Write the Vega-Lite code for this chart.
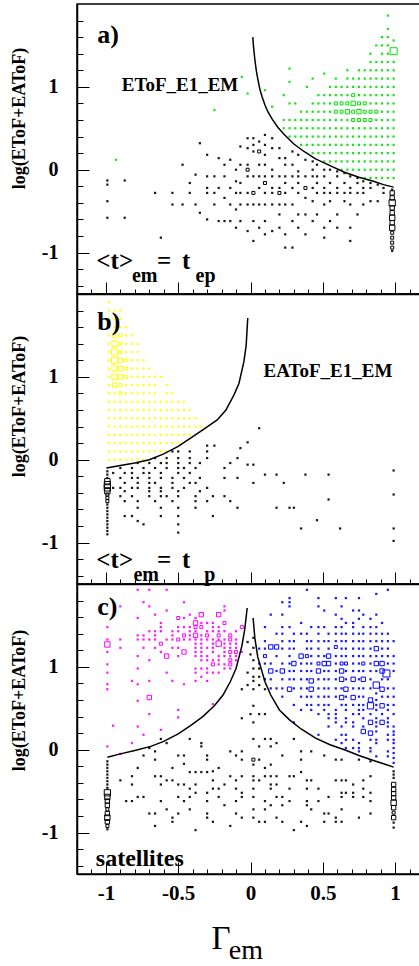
{"$schema":"https://vega.github.io/schema/vega-lite/v6.json",
"padding":{"left":9,"top":3,"right":0,"bottom":0},
"background":"white",
"spacing":0,
"bounds":"flush",
"config":{"view":{"stroke":"black","strokeWidth":1.5},"font":"Liberation Serif",
"axis":{"grid":false,"domainColor":"black","domainWidth":1.5,"tickColor":"black","tickWidth":1,"labelColor":"black","labelFont":"Liberation Serif","labelFontWeight":"bold","labelFlush":false,"labelOverlap":false,"labelBound":false,"titleFont":"Liberation Serif","titleFontWeight":"bold","titleColor":"black"}},
"resolve":{"scale":{"size":"independent"}},
"datasets":{
"crv":[
{"p":"a","s":"r","x":0.016,"y":1.6},{"p":"a","s":"r","x":0.02,"y":1.5},{"p":"a","s":"r","x":0.03,"y":1.33},{"p":"a","s":"r","x":0.04,"y":1.2},{"p":"a","s":"r","x":0.05,"y":1.1},{"p":"a","s":"r","x":0.065,"y":0.97},{"p":"a","s":"r","x":0.08,"y":0.88},{"p":"a","s":"r","x":0.1,"y":0.78},{"p":"a","s":"r","x":0.12,"y":0.7},{"p":"a","s":"r","x":0.15,"y":0.61},{"p":"a","s":"r","x":0.19,"y":0.51},{"p":"a","s":"r","x":0.23,"y":0.43},{"p":"a","s":"r","x":0.3,"y":0.31},{"p":"a","s":"r","x":0.37,"y":0.22},{"p":"a","s":"r","x":0.45,"y":0.13},{"p":"a","s":"r","x":0.55,"y":0.05},{"p":"a","s":"r","x":0.65,"y":-0.03},{"p":"a","s":"r","x":0.75,"y":-0.09},{"p":"a","s":"r","x":0.85,"y":-0.14},{"p":"a","s":"r","x":0.92,"y":-0.18},{"p":"a","s":"r","x":0.99,"y":-0.21},
{"p":"b","s":"l","x":-0.997,"y":-0.1},{"p":"b","s":"l","x":-0.9,"y":-0.07},{"p":"b","s":"l","x":-0.8,"y":-0.04},{"p":"b","s":"l","x":-0.7,"y":0.0},{"p":"b","s":"l","x":-0.6,"y":0.07},{"p":"b","s":"l","x":-0.5,"y":0.16},{"p":"b","s":"l","x":-0.415,"y":0.26},{"p":"b","s":"l","x":-0.33,"y":0.36},{"p":"b","s":"l","x":-0.23,"y":0.48},{"p":"b","s":"l","x":-0.17,"y":0.6},{"p":"b","s":"l","x":-0.115,"y":0.78},{"p":"b","s":"l","x":-0.08,"y":0.92},{"p":"b","s":"l","x":-0.046,"y":1.18},{"p":"b","s":"l","x":-0.03,"y":1.38},{"p":"b","s":"l","x":-0.019,"y":1.71},
{"p":"c","s":"l","x":-0.99,"y":-0.09},{"p":"c","s":"l","x":-0.9,"y":-0.05},{"p":"c","s":"l","x":-0.8,"y":-0.01},{"p":"c","s":"l","x":-0.69,"y":0.04},{"p":"c","s":"l","x":-0.6,"y":0.1},{"p":"c","s":"l","x":-0.5,"y":0.19},{"p":"c","s":"l","x":-0.415,"y":0.29},{"p":"c","s":"l","x":-0.33,"y":0.4},{"p":"c","s":"l","x":-0.25,"y":0.53},{"p":"c","s":"l","x":-0.19,"y":0.66},{"p":"c","s":"l","x":-0.14,"y":0.82},{"p":"c","s":"l","x":-0.1,"y":0.98},{"p":"c","s":"l","x":-0.06,"y":1.25},{"p":"c","s":"l","x":-0.04,"y":1.45},{"p":"c","s":"l","x":-0.023,"y":1.71},
{"p":"c","s":"r","x":0.018,"y":1.59},{"p":"c","s":"r","x":0.03,"y":1.35},{"p":"c","s":"r","x":0.05,"y":1.12},{"p":"c","s":"r","x":0.07,"y":1.0},{"p":"c","s":"r","x":0.1,"y":0.82},{"p":"c","s":"r","x":0.14,"y":0.66},{"p":"c","s":"r","x":0.2,"y":0.48},{"p":"c","s":"r","x":0.27,"y":0.36},{"p":"c","s":"r","x":0.35,"y":0.25},{"p":"c","s":"r","x":0.45,"y":0.14},{"p":"c","s":"r","x":0.55,"y":0.06},{"p":"c","s":"r","x":0.65,"y":0.0},{"p":"c","s":"r","x":0.75,"y":-0.07},{"p":"c","s":"r","x":0.85,"y":-0.13},{"p":"c","s":"r","x":0.92,"y":-0.17},{"p":"c","s":"r","x":0.99,"y":-0.21}
],
"txt":[
{"p":"a","r":"tag","t":"a)","x":-1.06,"y":1.53},
{"p":"a","r":"name","t":"EToF_E1_EM","x":-0.89,"y":0.95},
{"p":"a","r":"main","t":"<t>","x":-1.066,"y":-1.2},
{"p":"a","r":"sub","t":"em","x":-0.82,"y":-1.35},
{"p":"a","r":"main","t":"=","x":-0.646,"y":-1.2},
{"p":"a","r":"main","t":"t","x":-0.473,"y":-1.2},
{"p":"a","r":"sub","t":"ep","x":-0.38,"y":-1.35},
{"p":"b","r":"tag","t":"b)","x":-1.06,"y":1.57},
{"p":"b","r":"name","t":"EAToF_E1_EM","x":0.09,"y":1.0},
{"p":"b","r":"main","t":"<t>","x":-1.066,"y":-1.31},
{"p":"b","r":"sub","t":"em","x":-0.81,"y":-1.46},
{"p":"b","r":"main","t":"=","x":-0.646,"y":-1.31},
{"p":"b","r":"main","t":"t","x":-0.473,"y":-1.31},
{"p":"b","r":"sub","t":"p","x":-0.32,"y":-1.46},
{"p":"c","r":"tag","t":"c)","x":-1.06,"y":1.63},
{"p":"c","r":"sat","t":"satellites","x":-1.07,"y":-1.4},
{"p":"c","r":"big","t":"Γ","x":-0.27,"y":-2.41},
{"p":"c","r":"bigsub","t":"em","x":-0.15,"y":-2.53}
],
"pts":[
{"k":"ak","x":-0.99,"y":-0.13},{"k":"ak","x":-0.99,"y":-0.18},{"k":"ak","x":-0.99,"y":-0.38},{"k":"ak","x":-0.99,"y":-0.58},{"k":"ak","x":-0.87,"y":-0.13},{"k":"ak","x":-0.87,"y":-0.58},{"k":"ak","x":-0.66,"y":-0.28},{"k":"ak","x":-0.62,"y":-0.82},{"k":"ak","x":-0.54,"y":-0.28},{"k":"ak","x":-0.54,"y":-0.42},{"k":"ak","x":-0.47,"y":0.06},{"k":"ak","x":-0.47,"y":-0.42},{"k":"ak","x":-0.42,"y":-0.16},{"k":"ak","x":-0.42,"y":-0.28},{"k":"ak","x":-0.38,"y":-0.06},{"k":"ak","x":-0.38,"y":-0.42},{"k":"ak","x":-0.35,"y":0.32},{"k":"ak","x":-0.35,"y":-0.52},
{"k":"ak","x":-0.3,"y":0.18},{"k":"ak","x":-0.3,"y":-0.08},{"k":"ak","x":-0.3,"y":-0.22},{"k":"ak","x":-0.3,"y":-0.28},{"k":"ak","x":-0.3,"y":-0.6},{"k":"ak","x":-0.25,"y":-0.08},{"k":"ak","x":-0.25,"y":-0.28},{"k":"ak","x":-0.25,"y":-0.42},{"k":"ak","x":-0.22,"y":0.14},{"k":"ak","x":-0.22,"y":-0.22},{"k":"ak","x":-0.22,"y":-0.62},{"k":"ak","x":-0.18,"y":0.06},{"k":"ak","x":-0.18,"y":-0.08},{"k":"ak","x":-0.18,"y":-0.34},{"k":"ak","x":-0.18,"y":-0.62},{"k":"ak","x":-0.14,"y":0.12},{"k":"ak","x":-0.14,"y":-0.22},{"k":"ak","x":-0.14,"y":-0.42},{"k":"ak","x":-0.14,"y":-0.62},
{"k":"ak","x":-0.1,"y":0},{"k":"ak","x":-0.1,"y":-0.14},{"k":"ak","x":-0.1,"y":-0.28},{"k":"ak","x":-0.1,"y":-0.48},{"k":"ak","x":-0.1,"y":-0.7},{"k":"ak","x":-0.07,"y":0.28},{"k":"ak","x":-0.07,"y":0.06},{"k":"ak","x":-0.07,"y":-0.16},{"k":"ak","x":-0.07,"y":-0.28},{"k":"ak","x":-0.07,"y":-0.42},{"k":"ak","x":-0.07,"y":-0.62},
{"k":"ak","x":-0.02,"y":0.38},{"k":"ak","x":-0.02,"y":0.26},{"k":"ak","x":-0.02,"y":0.06},{"k":"ak","x":-0.02,"y":0,"n":2},{"k":"ak","x":-0.02,"y":-0.08},{"k":"ak","x":-0.02,"y":-0.28},{"k":"ak","x":-0.02,"y":-0.42},{"k":"ak","x":-0.02,"y":-0.74},
{"k":"ak","x":0.02,"y":0.38},{"k":"ak","x":0.02,"y":0.3},{"k":"ak","x":0.02,"y":0.22},{"k":"ak","x":0.02,"y":-0.08},{"k":"ak","x":0.02,"y":-0.28,"n":2},{"k":"ak","x":0.02,"y":-0.42},{"k":"ak","x":0.02,"y":-0.62},{"k":"ak","x":0.02,"y":-0.86},
{"k":"ak","x":0.06,"y":0.34},{"k":"ak","x":0.06,"y":0.22,"n":2},{"k":"ak","x":0.06,"y":0.06},{"k":"ak","x":0.06,"y":-0.08},{"k":"ak","x":0.06,"y":-0.22},{"k":"ak","x":0.06,"y":-0.42},{"k":"ak","x":0.06,"y":-0.7},
{"k":"ak","x":0.1,"y":0.42},{"k":"ak","x":0.1,"y":0.3},{"k":"ak","x":0.1,"y":0.18},{"k":"ak","x":0.1,"y":0.06},{"k":"ak","x":0.1,"y":-0.08},{"k":"ak","x":0.1,"y":-0.16,"n":2},{"k":"ak","x":0.1,"y":-0.28},{"k":"ak","x":0.1,"y":-0.42},{"k":"ak","x":0.1,"y":-0.62},{"k":"ak","x":0.1,"y":-0.78},
{"k":"ak","x":0.15,"y":0.38},{"k":"ak","x":0.15,"y":0.26},{"k":"ak","x":0.15,"y":0},{"k":"ak","x":0.15,"y":-0.08},{"k":"ak","x":0.15,"y":-0.22},{"k":"ak","x":0.15,"y":-0.28},{"k":"ak","x":0.15,"y":-0.42},{"k":"ak","x":0.15,"y":-0.74},
{"k":"ak","x":0.2,"y":0.26},{"k":"ak","x":0.2,"y":0.14},{"k":"ak","x":0.2,"y":-0.08},{"k":"ak","x":0.2,"y":-0.22},{"k":"ak","x":0.2,"y":-0.28,"n":2},{"k":"ak","x":0.2,"y":-0.42},{"k":"ak","x":0.2,"y":-0.54},{"k":"ak","x":0.2,"y":-0.7},
{"k":"ak","x":0.24,"y":0.14},{"k":"ak","x":0.24,"y":0.06},{"k":"ak","x":0.24,"y":-0.08},{"k":"ak","x":0.24,"y":-0.16},{"k":"ak","x":0.24,"y":-0.28},{"k":"ak","x":0.24,"y":-0.42},{"k":"ak","x":0.24,"y":-0.78},{"k":"ak","x":0.24,"y":-0.94},
{"k":"ak","x":0.29,"y":0.22},{"k":"ak","x":0.29,"y":0.06},{"k":"ak","x":0.29,"y":-0.08},{"k":"ak","x":0.29,"y":-0.22},{"k":"ak","x":0.29,"y":-0.42},{"k":"ak","x":0.29,"y":-0.62},{"k":"ak","x":0.29,"y":-0.94},
{"k":"ak","x":0.33,"y":0.18},{"k":"ak","x":0.33,"y":-0.02},{"k":"ak","x":0.33,"y":-0.08},{"k":"ak","x":0.33,"y":-0.16},{"k":"ak","x":0.33,"y":-0.28},{"k":"ak","x":0.33,"y":-0.54},{"k":"ak","x":0.33,"y":-0.7},
{"k":"ak","x":0.38,"y":0.12},{"k":"ak","x":0.38,"y":-0.08},{"k":"ak","x":0.38,"y":-0.22,"n":2},{"k":"ak","x":0.38,"y":-0.34},{"k":"ak","x":0.38,"y":-0.54},{"k":"ak","x":0.38,"y":-0.78},
{"k":"ak","x":0.43,"y":0.1},{"k":"ak","x":0.43,"y":0},{"k":"ak","x":0.43,"y":-0.08},{"k":"ak","x":0.43,"y":-0.22},{"k":"ak","x":0.43,"y":-0.38},{"k":"ak","x":0.43,"y":-0.62},
{"k":"ak","x":0.46,"y":0.06},{"k":"ak","x":0.46,"y":-0.08},{"k":"ak","x":0.46,"y":-0.16},{"k":"ak","x":0.46,"y":-0.28},{"k":"ak","x":0.46,"y":-0.54},
{"k":"ak","x":0.51,"y":0},{"k":"ak","x":0.51,"y":-0.08},{"k":"ak","x":0.51,"y":-0.22},{"k":"ak","x":0.51,"y":-0.28},{"k":"ak","x":0.51,"y":-0.42},{"k":"ak","x":0.51,"y":-0.7},{"k":"ak","x":0.51,"y":-0.82},
{"k":"ak","x":0.55,"y":0},{"k":"ak","x":0.55,"y":-0.16},{"k":"ak","x":0.55,"y":-0.28},{"k":"ak","x":0.55,"y":-0.38},{"k":"ak","x":0.55,"y":-0.62},
{"k":"ak","x":0.6,"y":-0.02},{"k":"ak","x":0.6,"y":-0.08},{"k":"ak","x":0.6,"y":-0.22},{"k":"ak","x":0.6,"y":-0.28},{"k":"ak","x":0.6,"y":-0.54},{"k":"ak","x":0.6,"y":-0.7},
{"k":"ak","x":0.65,"y":-0.04},{"k":"ak","x":0.65,"y":-0.16},{"k":"ak","x":0.65,"y":-0.28},{"k":"ak","x":0.65,"y":-0.38},
{"k":"ak","x":0.69,"y":-0.08},{"k":"ak","x":0.69,"y":-0.22},{"k":"ak","x":0.69,"y":-0.28},{"k":"ak","x":0.69,"y":-0.42},{"k":"ak","x":0.69,"y":-0.7},{"k":"ak","x":0.69,"y":-0.86},
{"k":"ak","x":0.74,"y":-0.1},{"k":"ak","x":0.74,"y":-0.16},{"k":"ak","x":0.74,"y":-0.28},{"k":"ak","x":0.74,"y":-0.54},
{"k":"ak","x":0.78,"y":-0.14},{"k":"ak","x":0.78,"y":-0.22},{"k":"ak","x":0.78,"y":-0.28},{"k":"ak","x":0.78,"y":-0.42},
{"k":"ak","x":0.83,"y":-0.16},{"k":"ak","x":0.83,"y":-0.22},{"k":"ak","x":0.83,"y":-0.38},{"k":"ak","x":0.88,"y":-0.18},{"k":"ak","x":0.88,"y":-0.38},{"k":"ak","x":0.92,"y":-0.22},{"k":"ak","x":0.92,"y":-0.28},
{"k":"ak","x":0.98,"y":-0.24},{"k":"ak","x":0.98,"y":-0.28,"n":3},{"k":"ak","x":0.98,"y":-0.34,"n":3},{"k":"ak","x":0.98,"y":-0.4,"n":5},{"k":"ak","x":0.98,"y":-0.46,"n":3},{"k":"ak","x":0.98,"y":-0.52,"n":3},{"k":"ak","x":0.98,"y":-0.58,"n":4},{"k":"ak","x":0.98,"y":-0.64,"n":3},{"k":"ak","x":0.98,"y":-0.7,"n":4},{"k":"ak","x":0.98,"y":-0.76,"n":2},{"k":"ak","x":0.98,"y":-0.82,"n":2},{"k":"ak","x":0.98,"y":-0.88,"n":2},{"k":"ak","x":0.98,"y":-0.94,"n":2},{"k":"ak","x":0.98,"y":-0.98},
{"k":"ag","x":-0.93,"y":0.12},{"k":"ag","x":-0.25,"y":0.72},{"k":"ag","x":-0.06,"y":1.12},{"k":"ag","x":-0.02,"y":0.92},{"k":"ag","x":0.1,"y":0.96},{"k":"ag","x":0.15,"y":0.76},
{"k":"ag","x":0.23,"y":0.5},{"k":"ag","x":0.23,"y":0.6},{"k":"ag","x":0.23,"y":0.9},
{"k":"ag","x":0.27,"y":0.4},{"k":"ag","x":0.27,"y":0.5},{"k":"ag","x":0.27,"y":0.6},{"k":"ag","x":0.27,"y":0.8},{"k":"ag","x":0.27,"y":1.06},{"k":"ag","x":0.27,"y":1.22},
{"k":"ag","x":0.31,"y":0.4},{"k":"ag","x":0.31,"y":0.5},{"k":"ag","x":0.31,"y":0.6},{"k":"ag","x":0.31,"y":0.8},
{"k":"ag","x":0.35,"y":0.3},{"k":"ag","x":0.35,"y":0.4},{"k":"ag","x":0.35,"y":0.5},{"k":"ag","x":0.35,"y":0.6},{"k":"ag","x":0.35,"y":0.7},
{"k":"ag","x":0.39,"y":0.3},{"k":"ag","x":0.39,"y":0.4},{"k":"ag","x":0.39,"y":0.5},{"k":"ag","x":0.39,"y":0.6},{"k":"ag","x":0.39,"y":0.7},{"k":"ag","x":0.39,"y":1.0},
{"k":"ag","x":0.43,"y":0.2},{"k":"ag","x":0.43,"y":0.3},{"k":"ag","x":0.43,"y":0.4},{"k":"ag","x":0.43,"y":0.5},{"k":"ag","x":0.43,"y":0.6},{"k":"ag","x":0.43,"y":0.7},{"k":"ag","x":0.43,"y":0.8},{"k":"ag","x":0.43,"y":1.1},
{"k":"ag","x":0.47,"y":0.2},{"k":"ag","x":0.47,"y":0.3},{"k":"ag","x":0.47,"y":0.4},{"k":"ag","x":0.47,"y":0.5},{"k":"ag","x":0.47,"y":0.6},{"k":"ag","x":0.47,"y":0.7},{"k":"ag","x":0.47,"y":0.8},{"k":"ag","x":0.47,"y":0.9},
{"k":"ag","x":0.51,"y":0.1},{"k":"ag","x":0.51,"y":0.2},{"k":"ag","x":0.51,"y":0.3},{"k":"ag","x":0.51,"y":0.4},{"k":"ag","x":0.51,"y":0.5},{"k":"ag","x":0.51,"y":0.6},{"k":"ag","x":0.51,"y":0.7},{"k":"ag","x":0.51,"y":0.8},{"k":"ag","x":0.51,"y":0.9},{"k":"ag","x":0.51,"y":1.16},
{"k":"ag","x":0.55,"y":0.1},{"k":"ag","x":0.55,"y":0.2},{"k":"ag","x":0.55,"y":0.3},{"k":"ag","x":0.55,"y":0.4},{"k":"ag","x":0.55,"y":0.5},{"k":"ag","x":0.55,"y":0.6},{"k":"ag","x":0.55,"y":0.7},{"k":"ag","x":0.55,"y":0.8},{"k":"ag","x":0.55,"y":0.9},{"k":"ag","x":0.55,"y":1.0},
{"k":"ag","x":0.59,"y":0.1},{"k":"ag","x":0.59,"y":0.2},{"k":"ag","x":0.59,"y":0.3},{"k":"ag","x":0.59,"y":0.4},{"k":"ag","x":0.59,"y":0.5},{"k":"ag","x":0.59,"y":0.6},{"k":"ag","x":0.59,"y":0.7,"n":2},{"k":"ag","x":0.59,"y":0.8,"n":2},{"k":"ag","x":0.59,"y":0.9},{"k":"ag","x":0.59,"y":1.0},{"k":"ag","x":0.59,"y":1.1},
{"k":"ag","x":0.63,"y":0},{"k":"ag","x":0.63,"y":0.1},{"k":"ag","x":0.63,"y":0.2},{"k":"ag","x":0.63,"y":0.3},{"k":"ag","x":0.63,"y":0.4},{"k":"ag","x":0.63,"y":0.5},{"k":"ag","x":0.63,"y":0.6},{"k":"ag","x":0.63,"y":0.7,"n":2},{"k":"ag","x":0.63,"y":0.8,"n":2},{"k":"ag","x":0.63,"y":0.9},{"k":"ag","x":0.63,"y":1.0},
{"k":"ag","x":0.67,"y":0},{"k":"ag","x":0.67,"y":0.1},{"k":"ag","x":0.67,"y":0.2},{"k":"ag","x":0.67,"y":0.3},{"k":"ag","x":0.67,"y":0.4},{"k":"ag","x":0.67,"y":0.5},{"k":"ag","x":0.67,"y":0.6},{"k":"ag","x":0.67,"y":0.7,"n":3},{"k":"ag","x":0.67,"y":0.8,"n":2},{"k":"ag","x":0.67,"y":0.9},{"k":"ag","x":0.67,"y":1.0},{"k":"ag","x":0.67,"y":1.1},{"k":"ag","x":0.67,"y":1.2},
{"k":"ag","x":0.71,"y":0},{"k":"ag","x":0.71,"y":0.1},{"k":"ag","x":0.71,"y":0.2},{"k":"ag","x":0.71,"y":0.3},{"k":"ag","x":0.71,"y":0.4},{"k":"ag","x":0.71,"y":0.5},{"k":"ag","x":0.71,"y":0.6,"n":2},{"k":"ag","x":0.71,"y":0.7,"n":2},{"k":"ag","x":0.71,"y":0.8,"n":3},{"k":"ag","x":0.71,"y":0.9,"n":2},{"k":"ag","x":0.71,"y":1.0},{"k":"ag","x":0.71,"y":1.1},
{"k":"ag","x":0.75,"y":0},{"k":"ag","x":0.75,"y":0.1},{"k":"ag","x":0.75,"y":0.2},{"k":"ag","x":0.75,"y":0.3},{"k":"ag","x":0.75,"y":0.4},{"k":"ag","x":0.75,"y":0.5},{"k":"ag","x":0.75,"y":0.6,"n":2},{"k":"ag","x":0.75,"y":0.7,"n":3},{"k":"ag","x":0.75,"y":0.8,"n":2},{"k":"ag","x":0.75,"y":0.9},{"k":"ag","x":0.75,"y":1.0},{"k":"ag","x":0.75,"y":1.1},{"k":"ag","x":0.75,"y":1.2},
{"k":"ag","x":0.79,"y":-0.1},{"k":"ag","x":0.79,"y":0},{"k":"ag","x":0.79,"y":0.1},{"k":"ag","x":0.79,"y":0.2},{"k":"ag","x":0.79,"y":0.3},{"k":"ag","x":0.79,"y":0.4},{"k":"ag","x":0.79,"y":0.5},{"k":"ag","x":0.79,"y":0.6,"n":2},{"k":"ag","x":0.79,"y":0.7,"n":2},{"k":"ag","x":0.79,"y":0.8,"n":2},{"k":"ag","x":0.79,"y":0.9},{"k":"ag","x":0.79,"y":1.0},{"k":"ag","x":0.79,"y":1.1},{"k":"ag","x":0.79,"y":1.2},
{"k":"ag","x":0.83,"y":-0.1},{"k":"ag","x":0.83,"y":0},{"k":"ag","x":0.83,"y":0.1},{"k":"ag","x":0.83,"y":0.2},{"k":"ag","x":0.83,"y":0.3},{"k":"ag","x":0.83,"y":0.4},{"k":"ag","x":0.83,"y":0.5},{"k":"ag","x":0.83,"y":0.6,"n":2},{"k":"ag","x":0.83,"y":0.7,"n":2},{"k":"ag","x":0.83,"y":0.8},{"k":"ag","x":0.83,"y":0.9},{"k":"ag","x":0.83,"y":1.0},{"k":"ag","x":0.83,"y":1.1},{"k":"ag","x":0.83,"y":1.2},{"k":"ag","x":0.83,"y":1.3},{"k":"ag","x":0.83,"y":1.4},
{"k":"ag","x":0.87,"y":-0.1},{"k":"ag","x":0.87,"y":0},{"k":"ag","x":0.87,"y":0.1},{"k":"ag","x":0.87,"y":0.2},{"k":"ag","x":0.87,"y":0.3},{"k":"ag","x":0.87,"y":0.4},{"k":"ag","x":0.87,"y":0.5},{"k":"ag","x":0.87,"y":0.6},{"k":"ag","x":0.87,"y":0.7,"n":2},{"k":"ag","x":0.87,"y":0.8},{"k":"ag","x":0.87,"y":0.9},{"k":"ag","x":0.87,"y":1.0},{"k":"ag","x":0.87,"y":1.1},{"k":"ag","x":0.87,"y":1.2},{"k":"ag","x":0.87,"y":1.3},{"k":"ag","x":0.87,"y":1.5},
{"k":"ag","x":0.91,"y":-0.1},{"k":"ag","x":0.91,"y":0},{"k":"ag","x":0.91,"y":0.1},{"k":"ag","x":0.91,"y":0.2},{"k":"ag","x":0.91,"y":0.3},{"k":"ag","x":0.91,"y":0.4},{"k":"ag","x":0.91,"y":0.5},{"k":"ag","x":0.91,"y":0.6},{"k":"ag","x":0.91,"y":0.7},{"k":"ag","x":0.91,"y":0.8},{"k":"ag","x":0.91,"y":0.9},{"k":"ag","x":0.91,"y":1.0},{"k":"ag","x":0.91,"y":1.1},{"k":"ag","x":0.91,"y":1.2},{"k":"ag","x":0.91,"y":1.3},{"k":"ag","x":0.91,"y":1.4},{"k":"ag","x":0.91,"y":1.5},{"k":"ag","x":0.91,"y":1.6},
{"k":"ag","x":0.95,"y":-0.1},{"k":"ag","x":0.95,"y":0},{"k":"ag","x":0.95,"y":0.1},{"k":"ag","x":0.95,"y":0.2},{"k":"ag","x":0.95,"y":0.3},{"k":"ag","x":0.95,"y":0.4},{"k":"ag","x":0.95,"y":0.5},{"k":"ag","x":0.95,"y":0.6},{"k":"ag","x":0.95,"y":0.7},{"k":"ag","x":0.95,"y":0.8},{"k":"ag","x":0.95,"y":0.9},{"k":"ag","x":0.95,"y":1.0},{"k":"ag","x":0.95,"y":1.1},{"k":"ag","x":0.95,"y":1.2},{"k":"ag","x":0.95,"y":1.3},{"k":"ag","x":0.95,"y":1.4},{"k":"ag","x":0.95,"y":1.5},{"k":"ag","x":0.95,"y":1.6},{"k":"ag","x":0.95,"y":1.7},{"k":"ag","x":0.95,"y":1.86},
{"k":"ag","x":0.99,"y":-0.1},{"k":"ag","x":0.99,"y":0},{"k":"ag","x":0.99,"y":0.1},{"k":"ag","x":0.99,"y":0.2},{"k":"ag","x":0.99,"y":0.3},{"k":"ag","x":0.99,"y":0.4},{"k":"ag","x":0.99,"y":0.5},{"k":"ag","x":0.99,"y":0.6},{"k":"ag","x":0.99,"y":0.7},{"k":"ag","x":0.99,"y":0.8},{"k":"ag","x":0.99,"y":0.9},{"k":"ag","x":0.99,"y":1.0},{"k":"ag","x":0.99,"y":1.1},{"k":"ag","x":0.99,"y":1.2},{"k":"ag","x":0.99,"y":1.3},{"k":"ag","x":0.99,"y":1.43,"n":6},{"k":"ag","x":0.99,"y":1.56},
{"k":"by","x":-0.98,"y":0},{"k":"by","x":-0.98,"y":0.1},{"k":"by","x":-0.98,"y":0.2},{"k":"by","x":-0.98,"y":0.3},{"k":"by","x":-0.98,"y":0.4},{"k":"by","x":-0.98,"y":0.5},{"k":"by","x":-0.98,"y":0.6},{"k":"by","x":-0.98,"y":0.7},{"k":"by","x":-0.98,"y":0.8},{"k":"by","x":-0.98,"y":0.9},{"k":"by","x":-0.98,"y":1.0},{"k":"by","x":-0.98,"y":1.1},{"k":"by","x":-0.98,"y":1.2},{"k":"by","x":-0.98,"y":1.3},{"k":"by","x":-0.98,"y":1.4},{"k":"by","x":-0.98,"y":1.5},{"k":"by","x":-0.98,"y":1.6},{"k":"by","x":-0.98,"y":1.7},{"k":"by","x":-0.98,"y":1.8},{"k":"by","x":-0.98,"y":1.9},
{"k":"by","x":-0.94,"y":0},{"k":"by","x":-0.94,"y":0.1},{"k":"by","x":-0.94,"y":0.2},{"k":"by","x":-0.94,"y":0.3},{"k":"by","x":-0.94,"y":0.4},{"k":"by","x":-0.94,"y":0.5},{"k":"by","x":-0.94,"y":0.6},{"k":"by","x":-0.94,"y":0.7},{"k":"by","x":-0.94,"y":0.8},{"k":"by","x":-0.94,"y":0.9,"n":3},{"k":"by","x":-0.94,"y":1.0,"n":4},{"k":"by","x":-0.94,"y":1.1,"n":4},{"k":"by","x":-0.94,"y":1.2,"n":5},{"k":"by","x":-0.94,"y":1.3,"n":5},{"k":"by","x":-0.94,"y":1.4,"n":4},{"k":"by","x":-0.94,"y":1.5,"n":3},{"k":"by","x":-0.94,"y":1.6},{"k":"by","x":-0.94,"y":1.7},{"k":"by","x":-0.94,"y":1.8},
{"k":"by","x":-0.9,"y":0},{"k":"by","x":-0.9,"y":0.1},{"k":"by","x":-0.9,"y":0.2},{"k":"by","x":-0.9,"y":0.3},{"k":"by","x":-0.9,"y":0.4},{"k":"by","x":-0.9,"y":0.5},{"k":"by","x":-0.9,"y":0.6},{"k":"by","x":-0.9,"y":0.7},{"k":"by","x":-0.9,"y":0.8,"n":2},{"k":"by","x":-0.9,"y":0.9,"n":2},{"k":"by","x":-0.9,"y":1.0,"n":3},{"k":"by","x":-0.9,"y":1.1,"n":3},{"k":"by","x":-0.9,"y":1.2,"n":3},{"k":"by","x":-0.9,"y":1.3,"n":2},{"k":"by","x":-0.9,"y":1.4,"n":2},{"k":"by","x":-0.9,"y":1.5,"n":2},{"k":"by","x":-0.9,"y":1.6},{"k":"by","x":-0.9,"y":1.7},{"k":"by","x":-0.9,"y":1.8},
{"k":"by","x":-0.86,"y":0},{"k":"by","x":-0.86,"y":0.1},{"k":"by","x":-0.86,"y":0.2},{"k":"by","x":-0.86,"y":0.3},{"k":"by","x":-0.86,"y":0.4},{"k":"by","x":-0.86,"y":0.5},{"k":"by","x":-0.86,"y":0.6},{"k":"by","x":-0.86,"y":0.7},{"k":"by","x":-0.86,"y":0.8},{"k":"by","x":-0.86,"y":0.9},{"k":"by","x":-0.86,"y":1.0,"n":2},{"k":"by","x":-0.86,"y":1.1,"n":2},{"k":"by","x":-0.86,"y":1.2,"n":2},{"k":"by","x":-0.86,"y":1.3},{"k":"by","x":-0.86,"y":1.4},{"k":"by","x":-0.86,"y":1.5},{"k":"by","x":-0.86,"y":1.6},
{"k":"by","x":-0.82,"y":0},{"k":"by","x":-0.82,"y":0.1},{"k":"by","x":-0.82,"y":0.2},{"k":"by","x":-0.82,"y":0.3},{"k":"by","x":-0.82,"y":0.4},{"k":"by","x":-0.82,"y":0.5},{"k":"by","x":-0.82,"y":0.6},{"k":"by","x":-0.82,"y":0.7},{"k":"by","x":-0.82,"y":0.8},{"k":"by","x":-0.82,"y":0.9},{"k":"by","x":-0.82,"y":1.0},{"k":"by","x":-0.82,"y":1.1},{"k":"by","x":-0.82,"y":1.2},{"k":"by","x":-0.82,"y":1.3},{"k":"by","x":-0.82,"y":1.4},{"k":"by","x":-0.82,"y":1.5},
{"k":"by","x":-0.78,"y":0},{"k":"by","x":-0.78,"y":0.1},{"k":"by","x":-0.78,"y":0.2},{"k":"by","x":-0.78,"y":0.3},{"k":"by","x":-0.78,"y":0.4},{"k":"by","x":-0.78,"y":0.5},{"k":"by","x":-0.78,"y":0.6},{"k":"by","x":-0.78,"y":0.7},{"k":"by","x":-0.78,"y":0.8},{"k":"by","x":-0.78,"y":0.9},{"k":"by","x":-0.78,"y":1.0},{"k":"by","x":-0.78,"y":1.1},{"k":"by","x":-0.78,"y":1.2},{"k":"by","x":-0.78,"y":1.3},{"k":"by","x":-0.78,"y":1.4},
{"k":"by","x":-0.74,"y":0},{"k":"by","x":-0.74,"y":0.1},{"k":"by","x":-0.74,"y":0.2},{"k":"by","x":-0.74,"y":0.3},{"k":"by","x":-0.74,"y":0.4},{"k":"by","x":-0.74,"y":0.5},{"k":"by","x":-0.74,"y":0.6},{"k":"by","x":-0.74,"y":0.7},{"k":"by","x":-0.74,"y":0.8},{"k":"by","x":-0.74,"y":0.9},{"k":"by","x":-0.74,"y":1.0},{"k":"by","x":-0.74,"y":1.1},{"k":"by","x":-0.74,"y":1.2},
{"k":"by","x":-0.7,"y":0.1},{"k":"by","x":-0.7,"y":0.2},{"k":"by","x":-0.7,"y":0.3},{"k":"by","x":-0.7,"y":0.4},{"k":"by","x":-0.7,"y":0.5},{"k":"by","x":-0.7,"y":0.6},{"k":"by","x":-0.7,"y":0.7},{"k":"by","x":-0.7,"y":0.8},{"k":"by","x":-0.7,"y":0.9},{"k":"by","x":-0.7,"y":1.0},{"k":"by","x":-0.7,"y":1.1},
{"k":"by","x":-0.66,"y":0.1},{"k":"by","x":-0.66,"y":0.2},{"k":"by","x":-0.66,"y":0.3},{"k":"by","x":-0.66,"y":0.4},{"k":"by","x":-0.66,"y":0.5},{"k":"by","x":-0.66,"y":0.6},{"k":"by","x":-0.66,"y":0.7},{"k":"by","x":-0.66,"y":0.8},{"k":"by","x":-0.66,"y":0.9},{"k":"by","x":-0.66,"y":1.0},
{"k":"by","x":-0.62,"y":0.1},{"k":"by","x":-0.62,"y":0.2},{"k":"by","x":-0.62,"y":0.3},{"k":"by","x":-0.62,"y":0.4},{"k":"by","x":-0.62,"y":0.5},{"k":"by","x":-0.62,"y":0.6},{"k":"by","x":-0.62,"y":0.7},{"k":"by","x":-0.62,"y":1.0},
{"k":"by","x":-0.58,"y":0.1},{"k":"by","x":-0.58,"y":0.2},{"k":"by","x":-0.58,"y":0.3},{"k":"by","x":-0.58,"y":0.4},{"k":"by","x":-0.58,"y":0.5},{"k":"by","x":-0.58,"y":0.6},{"k":"by","x":-0.58,"y":0.7},{"k":"by","x":-0.58,"y":0.8},{"k":"by","x":-0.58,"y":0.9},
{"k":"by","x":-0.54,"y":0.2},{"k":"by","x":-0.54,"y":0.3},{"k":"by","x":-0.54,"y":0.4},{"k":"by","x":-0.54,"y":0.5},{"k":"by","x":-0.54,"y":0.6},{"k":"by","x":-0.54,"y":0.7},{"k":"by","x":-0.54,"y":0.8},
{"k":"by","x":-0.5,"y":0.2},{"k":"by","x":-0.5,"y":0.3},{"k":"by","x":-0.5,"y":0.4},{"k":"by","x":-0.5,"y":0.5},{"k":"by","x":-0.5,"y":0.6},{"k":"by","x":-0.5,"y":0.7},
{"k":"by","x":-0.46,"y":0.3},{"k":"by","x":-0.46,"y":0.4},{"k":"by","x":-0.46,"y":0.5},{"k":"by","x":-0.46,"y":0.6},{"k":"by","x":-0.46,"y":0.7},
{"k":"by","x":-0.42,"y":0.3},{"k":"by","x":-0.42,"y":0.4},{"k":"by","x":-0.42,"y":0.5},{"k":"by","x":-0.42,"y":0.6},{"k":"by","x":-0.38,"y":0.4},{"k":"by","x":-0.38,"y":0.5},{"k":"by","x":-0.34,"y":0.4},
{"k":"bk","x":-0.99,"y":-0.14},{"k":"bk","x":-0.99,"y":-0.18},{"k":"bk","x":-0.99,"y":-0.22},{"k":"bk","x":-0.99,"y":-0.26,"n":4},{"k":"bk","x":-0.99,"y":-0.3,"n":5},{"k":"bk","x":-0.99,"y":-0.34,"n":5},{"k":"bk","x":-0.99,"y":-0.38,"n":4},{"k":"bk","x":-0.99,"y":-0.42,"n":2},{"k":"bk","x":-0.99,"y":-0.46,"n":2},{"k":"bk","x":-0.99,"y":-0.5,"n":2},{"k":"bk","x":-0.99,"y":-0.54},{"k":"bk","x":-0.99,"y":-0.58},{"k":"bk","x":-0.99,"y":-0.62},{"k":"bk","x":-0.99,"y":-0.66},{"k":"bk","x":-0.99,"y":-0.7},{"k":"bk","x":-0.99,"y":-0.74},{"k":"bk","x":-0.99,"y":-0.78},{"k":"bk","x":-0.99,"y":-0.82},{"k":"bk","x":-0.99,"y":-0.86},{"k":"bk","x":-0.99,"y":-0.9},
{"k":"bk","x":-0.54,"y":0.1},{"k":"bk","x":-0.5,"y":0.1},{"k":"bk","x":-0.42,"y":0.1},{"k":"bk","x":-0.3,"y":0.1},
{"k":"bk","x":-0.66,"y":0.02},{"k":"bk","x":-0.58,"y":0.02},{"k":"bk","x":-0.5,"y":0.02},{"k":"bk","x":-0.42,"y":0.02},{"k":"bk","x":-0.3,"y":0.02},{"k":"bk","x":-0.09,"y":0.02},
{"k":"bk","x":-0.78,"y":-0.04},{"k":"bk","x":-0.7,"y":-0.04},{"k":"bk","x":-0.62,"y":-0.04},{"k":"bk","x":-0.58,"y":-0.04},{"k":"bk","x":-0.5,"y":-0.04},{"k":"bk","x":-0.42,"y":-0.04},{"k":"bk","x":-0.35,"y":-0.04},{"k":"bk","x":-0.14,"y":-0.04},
{"k":"bk","x":-0.9,"y":-0.1},{"k":"bk","x":-0.82,"y":-0.1},{"k":"bk","x":-0.74,"y":-0.1},{"k":"bk","x":-0.66,"y":-0.1},{"k":"bk","x":-0.58,"y":-0.1},{"k":"bk","x":-0.5,"y":-0.1},{"k":"bk","x":-0.46,"y":-0.1},{"k":"bk","x":-0.38,"y":-0.1},{"k":"bk","x":-0.18,"y":-0.1},
{"k":"bk","x":-0.95,"y":-0.16},{"k":"bk","x":-0.87,"y":-0.16},{"k":"bk","x":-0.82,"y":-0.16},{"k":"bk","x":-0.74,"y":-0.16},{"k":"bk","x":-0.7,"y":-0.16},{"k":"bk","x":-0.62,"y":-0.16},{"k":"bk","x":-0.5,"y":-0.16},{"k":"bk","x":-0.42,"y":-0.16},
{"k":"bk","x":-0.9,"y":-0.22},{"k":"bk","x":-0.82,"y":-0.22},{"k":"bk","x":-0.78,"y":-0.22},{"k":"bk","x":-0.7,"y":-0.22},{"k":"bk","x":-0.62,"y":-0.22},{"k":"bk","x":-0.54,"y":-0.22},{"k":"bk","x":-0.46,"y":-0.22},{"k":"bk","x":-0.35,"y":-0.22},{"k":"bk","x":-0.18,"y":-0.22},{"k":"bk","x":-0.09,"y":-0.22},
{"k":"bk","x":-0.87,"y":-0.28},{"k":"bk","x":-0.78,"y":-0.28},{"k":"bk","x":-0.7,"y":-0.28},{"k":"bk","x":-0.66,"y":-0.28},{"k":"bk","x":-0.54,"y":-0.28},{"k":"bk","x":-0.42,"y":-0.28},{"k":"bk","x":-0.38,"y":-0.28},
{"k":"bk","x":-0.95,"y":-0.34},{"k":"bk","x":-0.9,"y":-0.34},{"k":"bk","x":-0.82,"y":-0.34},{"k":"bk","x":-0.78,"y":-0.34},{"k":"bk","x":-0.7,"y":-0.34},{"k":"bk","x":-0.62,"y":-0.34},{"k":"bk","x":-0.54,"y":-0.34},{"k":"bk","x":-0.46,"y":-0.34},{"k":"bk","x":-0.3,"y":-0.34},
{"k":"bk","x":-0.87,"y":-0.38},{"k":"bk","x":-0.7,"y":-0.38},{"k":"bk","x":-0.62,"y":-0.38},{"k":"bk","x":-0.5,"y":-0.38},{"k":"bk","x":-0.35,"y":-0.38},
{"k":"bk","x":-0.9,"y":-0.44},{"k":"bk","x":-0.82,"y":-0.44},{"k":"bk","x":-0.7,"y":-0.44},{"k":"bk","x":-0.62,"y":-0.44},{"k":"bk","x":-0.58,"y":-0.44},{"k":"bk","x":-0.5,"y":-0.44},{"k":"bk","x":-0.38,"y":-0.44},{"k":"bk","x":-0.26,"y":-0.44},{"k":"bk","x":-0.18,"y":-0.44},
{"k":"bk","x":-0.87,"y":-0.5},{"k":"bk","x":-0.78,"y":-0.5},{"k":"bk","x":-0.66,"y":-0.5},{"k":"bk","x":-0.54,"y":-0.5},{"k":"bk","x":-0.38,"y":-0.5},{"k":"bk","x":-0.3,"y":-0.5},{"k":"bk","x":-0.14,"y":-0.5},
{"k":"bk","x":-0.78,"y":-0.58},{"k":"bk","x":-0.62,"y":-0.58},{"k":"bk","x":-0.5,"y":-0.58},{"k":"bk","x":-0.38,"y":-0.58},{"k":"bk","x":-0.09,"y":-0.58},
{"k":"bk","x":-0.87,"y":-0.68},{"k":"bk","x":-0.82,"y":-0.68},{"k":"bk","x":-0.62,"y":-0.68},{"k":"bk","x":-0.5,"y":-0.68},{"k":"bk","x":-0.26,"y":-0.68},{"k":"bk","x":-0.78,"y":-0.74},{"k":"bk","x":-0.74,"y":-0.78},{"k":"bk","x":-0.5,"y":-0.78},{"k":"bk","x":-0.5,"y":-0.88},
{"k":"bk","x":-0.3,"y":0.17},{"k":"bk","x":-0.25,"y":0.17},{"k":"bk","x":-0.02,"y":0.21},{"k":"bk","x":-0.02,"y":-0.06},{"k":"bk","x":0.02,"y":-0.06},{"k":"bk","x":0.1,"y":-0.18},{"k":"bk","x":0.18,"y":-0.18},{"k":"bk","x":0.38,"y":-0.18},{"k":"bk","x":0.23,"y":-0.28},{"k":"bk","x":0.27,"y":-0.58},{"k":"bk","x":0.3,"y":-0.58},{"k":"bk","x":0.35,"y":-0.83},{"k":"bk","x":0.46,"y":-0.73},{"k":"bk","x":0.54,"y":-0.18},{"k":"bk","x":0.54,"y":-0.48},{"k":"bk","x":0.62,"y":-0.83},{"k":"bk","x":0.99,"y":-0.13},{"k":"bk","x":0.99,"y":-0.42},{"k":"bk","x":0.99,"y":-0.83},{"k":"bk","x":0.99,"y":-0.98},{"k":"bk","x":0.06,"y":0.38},{"k":"bk","x":-0.07,"y":0.14},{"k":"bk","x":0.02,"y":-0.28},{"k":"bk","x":0.18,"y":-0.58},
{"k":"cm","x":-0.78,"y":1.93},{"k":"cm","x":-0.7,"y":1.93},{"k":"cm","x":-0.58,"y":1.93},{"k":"cm","x":-0.74,"y":1.78},{"k":"cm","x":-0.46,"y":1.78},{"k":"cm","x":-0.9,"y":1.73},{"k":"cm","x":-0.7,"y":1.73},{"k":"cm","x":-0.18,"y":1.73},{"k":"cm","x":-0.58,"y":1.68},{"k":"cm","x":-0.18,"y":1.68},
{"k":"cm","x":-0.66,"y":1.63},{"k":"cm","x":-0.42,"y":1.63},{"k":"cm","x":-0.34,"y":1.63,"n":3},{"k":"cm","x":-0.22,"y":1.63,"n":3},{"k":"cm","x":-0.78,"y":1.59},{"k":"cm","x":-0.5,"y":1.59,"n":2},{"k":"cm","x":-0.46,"y":1.59},{"k":"cm","x":-0.38,"y":1.59},
{"k":"cm","x":-0.62,"y":1.53},{"k":"cm","x":-0.38,"y":1.53,"n":3},{"k":"cm","x":-0.34,"y":1.53},{"k":"cm","x":-0.3,"y":1.53},{"k":"cm","x":-0.26,"y":1.53},{"k":"cm","x":-0.18,"y":1.53,"n":2},
{"k":"cm","x":-0.99,"y":1.48},{"k":"cm","x":-0.62,"y":1.48},{"k":"cm","x":-0.5,"y":1.48},{"k":"cm","x":-0.46,"y":1.48},{"k":"cm","x":-0.42,"y":1.48},{"k":"cm","x":-0.38,"y":1.48,"n":2},{"k":"cm","x":-0.34,"y":1.48,"n":2},{"k":"cm","x":-0.26,"y":1.48},{"k":"cm","x":-0.22,"y":1.48},{"k":"cm","x":-0.06,"y":1.48,"n":2},
{"k":"cm","x":-0.7,"y":1.43},{"k":"cm","x":-0.66,"y":1.43},{"k":"cm","x":-0.62,"y":1.43},{"k":"cm","x":-0.54,"y":1.43},{"k":"cm","x":-0.5,"y":1.43},{"k":"cm","x":-0.42,"y":1.43},{"k":"cm","x":-0.38,"y":1.43},{"k":"cm","x":-0.3,"y":1.43},{"k":"cm","x":-0.26,"y":1.43},{"k":"cm","x":-0.22,"y":1.43},{"k":"cm","x":-0.18,"y":1.43},{"k":"cm","x":-0.1,"y":1.43},
{"k":"cm","x":-0.78,"y":1.38},{"k":"cm","x":-0.74,"y":1.38},{"k":"cm","x":-0.66,"y":1.38},{"k":"cm","x":-0.54,"y":1.38},{"k":"cm","x":-0.46,"y":1.38,"n":2},{"k":"cm","x":-0.42,"y":1.38},{"k":"cm","x":-0.38,"y":1.38,"n":3},{"k":"cm","x":-0.34,"y":1.38},{"k":"cm","x":-0.3,"y":1.38,"n":2},{"k":"cm","x":-0.22,"y":1.38,"n":2},{"k":"cm","x":-0.14,"y":1.38,"n":2},
{"k":"cm","x":-0.99,"y":1.33},{"k":"cm","x":-0.9,"y":1.33},{"k":"cm","x":-0.78,"y":1.33},{"k":"cm","x":-0.74,"y":1.33},{"k":"cm","x":-0.7,"y":1.33},{"k":"cm","x":-0.66,"y":1.33},{"k":"cm","x":-0.58,"y":1.33},{"k":"cm","x":-0.54,"y":1.33},{"k":"cm","x":-0.5,"y":1.33,"n":2},{"k":"cm","x":-0.46,"y":1.33},{"k":"cm","x":-0.42,"y":1.33},{"k":"cm","x":-0.38,"y":1.33},{"k":"cm","x":-0.34,"y":1.33},{"k":"cm","x":-0.3,"y":1.33},{"k":"cm","x":-0.26,"y":1.33},{"k":"cm","x":-0.22,"y":1.33},{"k":"cm","x":-0.18,"y":1.33},{"k":"cm","x":-0.14,"y":1.33,"n":2},{"k":"cm","x":-0.1,"y":1.33},
{"k":"cm","x":-0.99,"y":1.27,"n":4},{"k":"cm","x":-0.62,"y":1.28,"n":2},{"k":"cm","x":-0.38,"y":1.28},{"k":"cm","x":-0.34,"y":1.28},{"k":"cm","x":-0.26,"y":1.28},{"k":"cm","x":-0.22,"y":1.28,"n":4},{"k":"cm","x":-0.18,"y":1.28},{"k":"cm","x":-0.14,"y":1.28},{"k":"cm","x":-0.1,"y":1.28},
{"k":"cm","x":-0.9,"y":1.23},{"k":"cm","x":-0.74,"y":1.23},{"k":"cm","x":-0.66,"y":1.23},{"k":"cm","x":-0.54,"y":1.23},{"k":"cm","x":-0.5,"y":1.23},{"k":"cm","x":-0.38,"y":1.23},{"k":"cm","x":-0.34,"y":1.23},{"k":"cm","x":-0.3,"y":1.23},{"k":"cm","x":-0.26,"y":1.23},{"k":"cm","x":-0.18,"y":1.23},{"k":"cm","x":-0.14,"y":1.23},{"k":"cm","x":-0.1,"y":1.23},
{"k":"cm","x":-0.99,"y":1.18},{"k":"cm","x":-0.62,"y":1.18},{"k":"cm","x":-0.46,"y":1.18,"n":3},{"k":"cm","x":-0.38,"y":1.18},{"k":"cm","x":-0.34,"y":1.18},{"k":"cm","x":-0.26,"y":1.18},{"k":"cm","x":-0.18,"y":1.18},{"k":"cm","x":-0.14,"y":1.18,"n":2},{"k":"cm","x":-0.1,"y":1.18,"n":2},{"k":"cm","x":-0.06,"y":1.18},
{"k":"cm","x":-0.78,"y":1.13},{"k":"cm","x":-0.58,"y":1.13,"n":3},{"k":"cm","x":-0.5,"y":1.13},{"k":"cm","x":-0.38,"y":1.13},{"k":"cm","x":-0.34,"y":1.13},{"k":"cm","x":-0.3,"y":1.13},{"k":"cm","x":-0.22,"y":1.13},{"k":"cm","x":-0.18,"y":1.13},{"k":"cm","x":-0.14,"y":1.13},{"k":"cm","x":-0.1,"y":1.13},
{"k":"cm","x":-0.7,"y":1.08},{"k":"cm","x":-0.34,"y":1.08},{"k":"cm","x":-0.3,"y":1.08},{"k":"cm","x":-0.26,"y":1.08},{"k":"cm","x":-0.22,"y":1.08},{"k":"cm","x":-0.14,"y":1.08,"n":2},{"k":"cm","x":-0.1,"y":1.08},
{"k":"cm","x":-0.99,"y":1.03},{"k":"cm","x":-0.26,"y":1.03,"n":2},{"k":"cm","x":-0.22,"y":1.03},{"k":"cm","x":-0.18,"y":1.03},{"k":"cm","x":-0.14,"y":1.03,"n":2},
{"k":"cm","x":-0.78,"y":0.98},{"k":"cm","x":-0.38,"y":0.98},{"k":"cm","x":-0.34,"y":0.98},{"k":"cm","x":-0.3,"y":0.98},{"k":"cm","x":-0.18,"y":0.98},{"k":"cm","x":-0.14,"y":0.98},
{"k":"cm","x":-0.99,"y":0.93},{"k":"cm","x":-0.58,"y":0.93},{"k":"cm","x":-0.38,"y":0.93},{"k":"cm","x":-0.3,"y":0.93},{"k":"cm","x":-0.26,"y":0.93},{"k":"cm","x":-0.22,"y":0.93},{"k":"cm","x":-0.34,"y":0.88},
{"k":"cm","x":-0.82,"y":0.83},{"k":"cm","x":-0.7,"y":0.83},{"k":"cm","x":-0.54,"y":0.83},{"k":"cm","x":-0.38,"y":0.83},{"k":"cm","x":-0.3,"y":0.83},{"k":"cm","x":-0.99,"y":0.79},{"k":"cm","x":-0.78,"y":0.79},{"k":"cm","x":-0.46,"y":0.79},{"k":"cm","x":-0.99,"y":0.73},
{"k":"cm","x":-0.7,"y":0.63,"n":3},{"k":"cm","x":-0.78,"y":0.59},{"k":"cm","x":-0.26,"y":0.55},{"k":"cm","x":-0.5,"y":0.48},{"k":"cm","x":-0.7,"y":0.43},{"k":"cm","x":-0.5,"y":0.39},{"k":"cm","x":-0.95,"y":0.29},{"k":"cm","x":-0.78,"y":0.28},{"k":"cm","x":-0.62,"y":0.24},{"k":"cm","x":-0.74,"y":0.18},{"k":"cm","x":-0.82,"y":0.08},{"k":"cm","x":-0.99,"y":0.04},{"k":"cm","x":-0.9,"y":-0.05},
{"k":"cb","x":0.39,"y":1.93},{"k":"cb","x":0.95,"y":1.93},{"k":"cb","x":0.87,"y":1.88},{"k":"cb","x":0.27,"y":1.83},{"k":"cb","x":0.47,"y":1.83},{"k":"cb","x":0.59,"y":1.83},{"k":"cb","x":0.66,"y":1.83},{"k":"cb","x":0.75,"y":1.83},{"k":"cb","x":0.22,"y":1.78},{"k":"cb","x":0.27,"y":1.78},{"k":"cb","x":0.27,"y":1.73},{"k":"cb","x":0.47,"y":1.73},{"k":"cb","x":0.63,"y":1.73},{"k":"cb","x":0.51,"y":1.68},{"k":"cb","x":0.71,"y":1.68},{"k":"cb","x":0.75,"y":1.68},
{"k":"cb","x":0.14,"y":1.63},{"k":"cb","x":0.22,"y":1.63},{"k":"cb","x":0.59,"y":1.63},{"k":"cb","x":0.78,"y":1.63},{"k":"cb","x":0.87,"y":1.63},{"k":"cb","x":0.63,"y":1.58},{"k":"cb","x":0.75,"y":1.58},{"k":"cb","x":0.83,"y":1.58},{"k":"cb","x":0.35,"y":1.53},{"k":"cb","x":0.66,"y":1.53},{"k":"cb","x":0.71,"y":1.53},{"k":"cb","x":0.91,"y":1.53},
{"k":"cb","x":0.1,"y":1.48},{"k":"cb","x":0.22,"y":1.48},{"k":"cb","x":0.27,"y":1.48},{"k":"cb","x":0.42,"y":1.48},{"k":"cb","x":0.47,"y":1.48},{"k":"cb","x":0.51,"y":1.48},{"k":"cb","x":0.59,"y":1.48},{"k":"cb","x":0.63,"y":1.48},{"k":"cb","x":0.71,"y":1.48},{"k":"cb","x":0.78,"y":1.48},{"k":"cb","x":0.83,"y":1.48},{"k":"cb","x":0.87,"y":1.48},
{"k":"cb","x":0.18,"y":1.4},{"k":"cb","x":0.22,"y":1.4},{"k":"cb","x":0.3,"y":1.4},{"k":"cb","x":0.35,"y":1.4},{"k":"cb","x":0.39,"y":1.4},{"k":"cb","x":0.47,"y":1.4},{"k":"cb","x":0.54,"y":1.4},{"k":"cb","x":0.59,"y":1.4},{"k":"cb","x":0.63,"y":1.4},{"k":"cb","x":0.66,"y":1.4},{"k":"cb","x":0.71,"y":1.4},{"k":"cb","x":0.75,"y":1.4},{"k":"cb","x":0.78,"y":1.4},{"k":"cb","x":0.83,"y":1.4},{"k":"cb","x":0.87,"y":1.4},{"k":"cb","x":0.91,"y":1.4},{"k":"cb","x":0.95,"y":1.4},
{"k":"cb","x":0.1,"y":1.31},{"k":"cb","x":0.22,"y":1.31},{"k":"cb","x":0.27,"y":1.31},{"k":"cb","x":0.3,"y":1.31},{"k":"cb","x":0.39,"y":1.31},{"k":"cb","x":0.42,"y":1.31},{"k":"cb","x":0.47,"y":1.31},{"k":"cb","x":0.51,"y":1.31},{"k":"cb","x":0.54,"y":1.31},{"k":"cb","x":0.59,"y":1.31},{"k":"cb","x":0.63,"y":1.31},{"k":"cb","x":0.66,"y":1.31},{"k":"cb","x":0.71,"y":1.31},{"k":"cb","x":0.75,"y":1.31},{"k":"cb","x":0.78,"y":1.31},{"k":"cb","x":0.83,"y":1.31},{"k":"cb","x":0.87,"y":1.31},{"k":"cb","x":0.91,"y":1.31},{"k":"cb","x":0.95,"y":1.31},{"k":"cb","x":0.99,"y":1.31},
{"k":"cb","x":0.06,"y":1.22},{"k":"cb","x":0.1,"y":1.22},{"k":"cb","x":0.14,"y":1.24,"n":3},{"k":"cb","x":0.18,"y":1.24,"n":3},{"k":"cb","x":0.22,"y":1.22},{"k":"cb","x":0.27,"y":1.22},{"k":"cb","x":0.3,"y":1.22},{"k":"cb","x":0.39,"y":1.22},{"k":"cb","x":0.42,"y":1.22},{"k":"cb","x":0.47,"y":1.22},{"k":"cb","x":0.54,"y":1.22},{"k":"cb","x":0.59,"y":1.24,"n":2},{"k":"cb","x":0.63,"y":1.22},{"k":"cb","x":0.66,"y":1.22},{"k":"cb","x":0.71,"y":1.22},{"k":"cb","x":0.75,"y":1.22},{"k":"cb","x":0.78,"y":1.22},{"k":"cb","x":0.83,"y":1.22},{"k":"cb","x":0.87,"y":1.22,"n":3},{"k":"cb","x":0.91,"y":1.22},{"k":"cb","x":0.95,"y":1.22},
{"k":"cb","x":0.1,"y":1.13,"n":2},{"k":"cb","x":0.18,"y":1.13},{"k":"cb","x":0.27,"y":1.13},{"k":"cb","x":0.35,"y":1.13,"n":3},{"k":"cb","x":0.39,"y":1.13,"n":2},{"k":"cb","x":0.42,"y":1.13},{"k":"cb","x":0.47,"y":1.13},{"k":"cb","x":0.51,"y":1.13},{"k":"cb","x":0.54,"y":1.13,"n":3},{"k":"cb","x":0.59,"y":1.13},{"k":"cb","x":0.63,"y":1.13},{"k":"cb","x":0.66,"y":1.13},{"k":"cb","x":0.71,"y":1.13},{"k":"cb","x":0.75,"y":1.13},{"k":"cb","x":0.78,"y":1.13},{"k":"cb","x":0.83,"y":1.13},{"k":"cb","x":0.87,"y":1.13},{"k":"cb","x":0.91,"y":1.13},{"k":"cb","x":0.95,"y":1.13},{"k":"cb","x":0.99,"y":1.13},
{"k":"cb","x":0.06,"y":1.04},{"k":"cb","x":0.1,"y":1.04},{"k":"cb","x":0.14,"y":1.04},{"k":"cb","x":0.22,"y":1.04},{"k":"cb","x":0.27,"y":1.04},{"k":"cb","x":0.3,"y":1.04,"n":3},{"k":"cb","x":0.35,"y":1.04},{"k":"cb","x":0.39,"y":1.04},{"k":"cb","x":0.42,"y":1.04},{"k":"cb","x":0.47,"y":1.04,"n":2},{"k":"cb","x":0.51,"y":1.04,"n":3},{"k":"cb","x":0.54,"y":1.04,"n":3},{"k":"cb","x":0.59,"y":1.04},{"k":"cb","x":0.63,"y":1.04,"n":2},{"k":"cb","x":0.66,"y":1.04,"n":2},{"k":"cb","x":0.71,"y":1.04},{"k":"cb","x":0.75,"y":1.04},{"k":"cb","x":0.78,"y":1.04,"n":2},{"k":"cb","x":0.83,"y":1.04},{"k":"cb","x":0.87,"y":1.04,"n":3},{"k":"cb","x":0.91,"y":1.04,"n":3},{"k":"cb","x":0.95,"y":1.04},{"k":"cb","x":0.99,"y":1.04},
{"k":"cb","x":0.14,"y":0.95,"n":3},{"k":"cb","x":0.18,"y":0.95},{"k":"cb","x":0.22,"y":0.95,"n":3},{"k":"cb","x":0.27,"y":0.95},{"k":"cb","x":0.3,"y":0.95},{"k":"cb","x":0.35,"y":0.95},{"k":"cb","x":0.39,"y":0.95},{"k":"cb","x":0.42,"y":0.95},{"k":"cb","x":0.47,"y":0.95,"n":3},{"k":"cb","x":0.51,"y":0.95},{"k":"cb","x":0.54,"y":0.95},{"k":"cb","x":0.59,"y":0.95},{"k":"cb","x":0.63,"y":0.95,"n":3},{"k":"cb","x":0.66,"y":0.95},{"k":"cb","x":0.71,"y":0.95},{"k":"cb","x":0.75,"y":0.95},{"k":"cb","x":0.78,"y":0.95},{"k":"cb","x":0.83,"y":0.95},{"k":"cb","x":0.87,"y":0.95},{"k":"cb","x":0.91,"y":0.95,"n":3},{"k":"cb","x":0.94,"y":0.92,"n":6},{"k":"cb","x":0.99,"y":0.95},
{"k":"cb","x":0.1,"y":0.85},{"k":"cb","x":0.14,"y":0.85},{"k":"cb","x":0.22,"y":0.85},{"k":"cb","x":0.27,"y":0.85},{"k":"cb","x":0.3,"y":0.85},{"k":"cb","x":0.35,"y":0.85},{"k":"cb","x":0.39,"y":0.85},{"k":"cb","x":0.42,"y":0.83,"n":3},{"k":"cb","x":0.47,"y":0.85},{"k":"cb","x":0.51,"y":0.85},{"k":"cb","x":0.54,"y":0.85},{"k":"cb","x":0.59,"y":0.85},{"k":"cb","x":0.63,"y":0.85,"n":3},{"k":"cb","x":0.66,"y":0.85},{"k":"cb","x":0.71,"y":0.85,"n":3},{"k":"cb","x":0.75,"y":0.85},{"k":"cb","x":0.78,"y":0.85,"n":3},{"k":"cb","x":0.83,"y":0.85},{"k":"cb","x":0.87,"y":0.78,"n":5},{"k":"cb","x":0.91,"y":0.85},{"k":"cb","x":0.95,"y":0.85},
{"k":"cb","x":0.14,"y":0.74},{"k":"cb","x":0.18,"y":0.74},{"k":"cb","x":0.22,"y":0.74},{"k":"cb","x":0.27,"y":0.73,"n":3},{"k":"cb","x":0.3,"y":0.74},{"k":"cb","x":0.35,"y":0.74},{"k":"cb","x":0.39,"y":0.74},{"k":"cb","x":0.42,"y":0.73,"n":3},{"k":"cb","x":0.47,"y":0.74},{"k":"cb","x":0.51,"y":0.74},{"k":"cb","x":0.54,"y":0.74},{"k":"cb","x":0.59,"y":0.74},{"k":"cb","x":0.63,"y":0.74},{"k":"cb","x":0.66,"y":0.73,"n":3},{"k":"cb","x":0.71,"y":0.74},{"k":"cb","x":0.75,"y":0.74},{"k":"cb","x":0.78,"y":0.74},{"k":"cb","x":0.83,"y":0.74},{"k":"cb","x":0.87,"y":0.68},{"k":"cb","x":0.91,"y":0.73,"n":3},{"k":"cb","x":0.95,"y":0.74},{"k":"cb","x":0.99,"y":0.74},
{"k":"cb","x":0.22,"y":0.64},{"k":"cb","x":0.35,"y":0.64},{"k":"cb","x":0.39,"y":0.64},{"k":"cb","x":0.42,"y":0.64},{"k":"cb","x":0.47,"y":0.64},{"k":"cb","x":0.51,"y":0.64},{"k":"cb","x":0.54,"y":0.64},{"k":"cb","x":0.59,"y":0.64},{"k":"cb","x":0.63,"y":0.63,"n":3},{"k":"cb","x":0.66,"y":0.64},{"k":"cb","x":0.71,"y":0.63,"n":3},{"k":"cb","x":0.75,"y":0.64},{"k":"cb","x":0.78,"y":0.64},{"k":"cb","x":0.83,"y":0.6,"n":3},{"k":"cb","x":0.87,"y":0.6},{"k":"cb","x":0.91,"y":0.64},{"k":"cb","x":0.95,"y":0.64},{"k":"cb","x":0.99,"y":0.64},
{"k":"cb","x":0.3,"y":0.54},{"k":"cb","x":0.39,"y":0.54},{"k":"cb","x":0.42,"y":0.54},{"k":"cb","x":0.47,"y":0.54},{"k":"cb","x":0.51,"y":0.54},{"k":"cb","x":0.54,"y":0.54},{"k":"cb","x":0.63,"y":0.54},{"k":"cb","x":0.66,"y":0.54},{"k":"cb","x":0.71,"y":0.54},{"k":"cb","x":0.75,"y":0.54},{"k":"cb","x":0.78,"y":0.54},{"k":"cb","x":0.83,"y":0.53,"n":5},{"k":"cb","x":0.87,"y":0.54},{"k":"cb","x":0.91,"y":0.53,"n":3},{"k":"cb","x":0.95,"y":0.54},{"k":"cb","x":0.99,"y":0.54},
{"k":"cb","x":0.35,"y":0.48},{"k":"cb","x":0.42,"y":0.48},{"k":"cb","x":0.51,"y":0.48},{"k":"cb","x":0.59,"y":0.48},{"k":"cb","x":0.66,"y":0.48},{"k":"cb","x":0.75,"y":0.48},{"k":"cb","x":0.78,"y":0.48},{"k":"cb","x":0.87,"y":0.48},{"k":"cb","x":0.95,"y":0.48},
{"k":"cb","x":0.47,"y":0.43},{"k":"cb","x":0.54,"y":0.43},{"k":"cb","x":0.59,"y":0.43},{"k":"cb","x":0.71,"y":0.43},{"k":"cb","x":0.75,"y":0.43},{"k":"cb","x":0.83,"y":0.43},{"k":"cb","x":0.91,"y":0.43},{"k":"cb","x":0.99,"y":0.43},
{"k":"cb","x":0.54,"y":0.38},{"k":"cb","x":0.59,"y":0.38},{"k":"cb","x":0.66,"y":0.38},{"k":"cb","x":0.78,"y":0.38},{"k":"cb","x":0.87,"y":0.38},{"k":"cb","x":0.95,"y":0.38},
{"k":"cb","x":0.3,"y":0.33},{"k":"cb","x":0.59,"y":0.33},{"k":"cb","x":0.66,"y":0.33},{"k":"cb","x":0.71,"y":0.33},{"k":"cb","x":0.83,"y":0.33,"n":3},{"k":"cb","x":0.87,"y":0.33},{"k":"cb","x":0.91,"y":0.33,"n":3},{"k":"cb","x":0.95,"y":0.33},
{"k":"cb","x":0.54,"y":0.28},{"k":"cb","x":0.63,"y":0.28},{"k":"cb","x":0.71,"y":0.28},{"k":"cb","x":0.78,"y":0.28},{"k":"cb","x":0.87,"y":0.28},{"k":"cb","x":0.95,"y":0.28},{"k":"cb","x":0.99,"y":0.28},
{"k":"cb","x":0.78,"y":0.22,"n":3},{"k":"cb","x":0.83,"y":0.2,"n":3},{"k":"cb","x":0.87,"y":0.22},{"k":"cb","x":0.99,"y":0.22},{"k":"cb","x":0.47,"y":0.18},{"k":"cb","x":0.63,"y":0.18},{"k":"cb","x":0.66,"y":0.18},{"k":"cb","x":0.95,"y":0.18},{"k":"cb","x":0.99,"y":0.18},
{"k":"cb","x":0.59,"y":0.12},{"k":"cb","x":0.66,"y":0.12},{"k":"cb","x":0.71,"y":0.12},{"k":"cb","x":0.83,"y":0.12},{"k":"cb","x":0.87,"y":0.12},{"k":"cb","x":0.95,"y":0.12},{"k":"cb","x":0.99,"y":0.12},
{"k":"cb","x":0.63,"y":0.08},{"k":"cb","x":0.75,"y":0.08},{"k":"cb","x":0.87,"y":0.08},{"k":"cb","x":0.99,"y":0.08},{"k":"cb","x":0.66,"y":0.02},{"k":"cb","x":0.71,"y":0.02},{"k":"cb","x":0.75,"y":0.02},{"k":"cb","x":0.83,"y":0.02},{"k":"cb","x":0.99,"y":0.02},
{"k":"cb","x":0.75,"y":-0.02},{"k":"cb","x":0.83,"y":-0.02},{"k":"cb","x":0.95,"y":-0.02},{"k":"cb","x":0.99,"y":-0.04},{"k":"cb","x":0.87,"y":-0.08},{"k":"cb","x":0.95,"y":-0.08},{"k":"cb","x":0.99,"y":-0.1},{"k":"cb","x":0.99,"y":-0.16},
{"k":"ck","x":-0.99,"y":-0.14},{"k":"ck","x":-0.99,"y":-0.18},{"k":"ck","x":-0.99,"y":-0.22},{"k":"ck","x":-0.99,"y":-0.26},{"k":"ck","x":-0.99,"y":-0.3},{"k":"ck","x":-0.99,"y":-0.34},{"k":"ck","x":-0.99,"y":-0.38},{"k":"ck","x":-0.99,"y":-0.42},{"k":"ck","x":-0.99,"y":-0.46},{"k":"ck","x":-0.99,"y":-0.52,"n":5},{"k":"ck","x":-0.99,"y":-0.57,"n":4},{"k":"ck","x":-0.99,"y":-0.62,"n":3},{"k":"ck","x":-0.99,"y":-0.67,"n":3},{"k":"ck","x":-0.99,"y":-0.72,"n":2},{"k":"ck","x":-0.99,"y":-0.77,"n":3},{"k":"ck","x":-0.99,"y":-0.82,"n":4},{"k":"ck","x":-0.99,"y":-0.87,"n":3},{"k":"ck","x":-0.99,"y":-0.92,"n":2},{"k":"ck","x":-0.99,"y":-0.96},
{"k":"ck","x":-0.62,"y":0.13},{"k":"ck","x":-0.42,"y":0.13},{"k":"ck","x":-0.34,"y":0.08},{"k":"ck","x":-0.34,"y":0.04},{"k":"ck","x":-0.7,"y":0.02},{"k":"ck","x":-0.58,"y":0.08},{"k":"ck","x":-0.66,"y":-0.02},{"k":"ck","x":-0.74,"y":-0.07},{"k":"ck","x":-0.5,"y":-0.07},{"k":"ck","x":-0.46,"y":-0.07},{"k":"ck","x":-0.3,"y":-0.07},{"k":"ck","x":-0.14,"y":-0.02},{"k":"ck","x":-0.1,"y":-0.07},{"k":"ck","x":-0.06,"y":-0.02},{"k":"ck","x":-0.66,"y":-0.12},{"k":"ck","x":-0.3,"y":-0.12},{"k":"ck","x":-0.06,"y":-0.12},{"k":"ck","x":-0.46,"y":-0.17},
{"k":"ck","x":-0.78,"y":-0.22},{"k":"ck","x":-0.54,"y":-0.22},{"k":"ck","x":-0.22,"y":-0.22},{"k":"ck","x":-0.26,"y":-0.26},{"k":"ck","x":-0.82,"y":-0.32},{"k":"ck","x":-0.66,"y":-0.32},{"k":"ck","x":-0.62,"y":-0.32},{"k":"ck","x":-0.42,"y":-0.27},{"k":"ck","x":-0.38,"y":-0.27},{"k":"ck","x":-0.34,"y":-0.27},{"k":"ck","x":-0.3,"y":-0.27},{"k":"ck","x":-0.9,"y":-0.37},{"k":"ck","x":-0.58,"y":-0.37},{"k":"ck","x":-0.54,"y":-0.37},{"k":"ck","x":-0.26,"y":-0.37},{"k":"ck","x":-0.14,"y":-0.32},{"k":"ck","x":-0.1,"y":-0.37},{"k":"ck","x":-0.06,"y":-0.32},
{"k":"ck","x":-0.82,"y":-0.42},{"k":"ck","x":-0.62,"y":-0.42},{"k":"ck","x":-0.5,"y":-0.42},{"k":"ck","x":-0.46,"y":-0.42},{"k":"ck","x":-0.38,"y":-0.42},{"k":"ck","x":-0.18,"y":-0.42},{"k":"ck","x":-0.42,"y":-0.47},{"k":"ck","x":-0.26,"y":-0.47},{"k":"ck","x":-0.22,"y":-0.47},{"k":"ck","x":-0.1,"y":-0.47},{"k":"ck","x":-0.38,"y":-0.52},{"k":"ck","x":-0.3,"y":-0.52},{"k":"ck","x":-0.06,"y":-0.52},
{"k":"ck","x":-0.78,"y":-0.57},{"k":"ck","x":-0.74,"y":-0.57},{"k":"ck","x":-0.5,"y":-0.57},{"k":"ck","x":-0.42,"y":-0.57},{"k":"ck","x":-0.22,"y":-0.57},{"k":"ck","x":-0.06,"y":-0.57},{"k":"ck","x":-0.86,"y":-0.62},{"k":"ck","x":-0.82,"y":-0.62},{"k":"ck","x":-0.62,"y":-0.62},{"k":"ck","x":-0.46,"y":-0.62},{"k":"ck","x":-0.3,"y":-0.62},{"k":"ck","x":-0.1,"y":-0.62},{"k":"ck","x":-0.18,"y":-0.67},
{"k":"ck","x":-0.58,"y":-0.72},{"k":"ck","x":-0.42,"y":-0.72},{"k":"ck","x":-0.7,"y":-0.77},{"k":"ck","x":-0.66,"y":-0.77},{"k":"ck","x":-0.5,"y":-0.77},{"k":"ck","x":-0.3,"y":-0.77},{"k":"ck","x":-0.1,"y":-0.77},{"k":"ck","x":-0.3,"y":-0.82},{"k":"ck","x":-0.06,"y":-0.82},{"k":"ck","x":-0.54,"y":-0.82},{"k":"ck","x":-0.54,"y":-0.87},{"k":"ck","x":-0.26,"y":-0.87},{"k":"ck","x":-0.66,"y":-0.92},{"k":"ck","x":-0.14,"y":-0.92},{"k":"ck","x":-0.38,"y":-0.97},
{"k":"ck","x":-0.02,"y":1.3},{"k":"ck","x":0,"y":1.15},{"k":"ck","x":0.02,"y":1.35},{"k":"ck","x":0.02,"y":1.23},{"k":"ck","x":0.02,"y":1.08},{"k":"ck","x":0.06,"y":0.98},{"k":"ck","x":0.02,"y":0.98},{"k":"ck","x":-0.02,"y":0.93},{"k":"ck","x":0.02,"y":0.88},{"k":"ck","x":0.06,"y":0.88},{"k":"ck","x":0.02,"y":0.83},{"k":"ck","x":-0.02,"y":0.78},{"k":"ck","x":0.02,"y":0.73},{"k":"ck","x":0.06,"y":0.78},{"k":"ck","x":-0.06,"y":0.73},{"k":"ck","x":0.1,"y":0.73},{"k":"ck","x":0.02,"y":0.53},{"k":"ck","x":0,"y":0.43},{"k":"ck","x":0.06,"y":0.43},{"k":"ck","x":0.1,"y":0.43},{"k":"ck","x":0.02,"y":0.33},{"k":"ck","x":-0.06,"y":0.38},
{"k":"ck","x":0.02,"y":0.13},{"k":"ck","x":0.1,"y":0.13},{"k":"ck","x":0.14,"y":0.13},{"k":"ck","x":0.18,"y":0.08},{"k":"ck","x":0.3,"y":0.13},{"k":"ck","x":0.06,"y":0.04},{"k":"ck","x":0.14,"y":0.04},{"k":"ck","x":0.35,"y":-0.02},{"k":"ck","x":0.02,"y":-0.12,"n":2},{"k":"ck","x":0.06,"y":-0.12},{"k":"ck","x":0.22,"y":-0.07},{"k":"ck","x":0.35,"y":-0.12},{"k":"ck","x":0.42,"y":-0.02},{"k":"ck","x":0.51,"y":-0.07},{"k":"ck","x":0.59,"y":-0.12},{"k":"ck","x":0.63,"y":-0.12},{"k":"ck","x":0.75,"y":-0.12},{"k":"ck","x":0.83,"y":-0.14},{"k":"ck","x":0.02,"y":-0.18},{"k":"ck","x":0.1,"y":-0.22},{"k":"ck","x":0.14,"y":-0.18},
{"k":"ck","x":0.02,"y":-0.32},{"k":"ck","x":0.1,"y":-0.32},{"k":"ck","x":0.14,"y":-0.32},{"k":"ck","x":0.18,"y":-0.32},{"k":"ck","x":0.27,"y":-0.32},{"k":"ck","x":0.3,"y":-0.32},{"k":"ck","x":0.35,"y":-0.27},{"k":"ck","x":0.02,"y":-0.37},{"k":"ck","x":0.06,"y":-0.37},{"k":"ck","x":0.14,"y":-0.42},{"k":"ck","x":0.18,"y":-0.42},{"k":"ck","x":0.39,"y":-0.37},{"k":"ck","x":0.42,"y":-0.37},{"k":"ck","x":0.59,"y":-0.37},{"k":"ck","x":0.63,"y":-0.37},{"k":"ck","x":0.66,"y":-0.37},{"k":"ck","x":0.71,"y":-0.42},{"k":"ck","x":0.78,"y":-0.37},{"k":"ck","x":0.83,"y":-0.32},
{"k":"ck","x":0.02,"y":-0.47},{"k":"ck","x":0.14,"y":-0.47},{"k":"ck","x":0.27,"y":-0.47},{"k":"ck","x":0.39,"y":-0.47},{"k":"ck","x":0.47,"y":-0.47},{"k":"ck","x":0.63,"y":-0.52},{"k":"ck","x":0.66,"y":-0.52},{"k":"ck","x":0.71,"y":-0.52},{"k":"ck","x":0.78,"y":-0.47},{"k":"ck","x":0.83,"y":-0.52},
{"k":"ck","x":0.02,"y":-0.57},{"k":"ck","x":0.1,"y":-0.62},{"k":"ck","x":0.18,"y":-0.57},{"k":"ck","x":0.22,"y":-0.57},{"k":"ck","x":0.27,"y":-0.62},{"k":"ck","x":0.39,"y":-0.62},{"k":"ck","x":0.47,"y":-0.62},{"k":"ck","x":0.54,"y":-0.57},{"k":"ck","x":0.63,"y":-0.57},{"k":"ck","x":0.71,"y":-0.57},{"k":"ck","x":0.78,"y":-0.57},{"k":"ck","x":0.83,"y":-0.62},
{"k":"ck","x":0.02,"y":-0.72},{"k":"ck","x":0.1,"y":-0.72},{"k":"ck","x":0.14,"y":-0.67},{"k":"ck","x":0.22,"y":-0.67},{"k":"ck","x":0.39,"y":-0.67},{"k":"ck","x":0.42,"y":-0.72},{"k":"ck","x":0.51,"y":-0.77},{"k":"ck","x":0.54,"y":-0.77},{"k":"ck","x":0.59,"y":-0.82},{"k":"ck","x":0.63,"y":-0.72},{"k":"ck","x":0.75,"y":-0.82},{"k":"ck","x":0.83,"y":-0.77},
{"k":"ck","x":0.02,"y":-0.82},{"k":"ck","x":0.06,"y":-0.87},{"k":"ck","x":0.1,"y":-0.87},{"k":"ck","x":0.18,"y":-0.82},{"k":"ck","x":0.22,"y":-0.87},{"k":"ck","x":0.35,"y":-0.87},{"k":"ck","x":0.39,"y":-0.92},{"k":"ck","x":0.51,"y":-0.87},{"k":"ck","x":0.59,"y":-0.87},{"k":"ck","x":0.63,"y":-0.87},{"k":"ck","x":0.3,"y":-0.97},
{"k":"ck","x":0.99,"y":-0.26},{"k":"ck","x":0.99,"y":-0.3},{"k":"ck","x":0.99,"y":-0.34},{"k":"ck","x":0.99,"y":-0.42,"n":3},{"k":"ck","x":0.99,"y":-0.48,"n":3},{"k":"ck","x":0.99,"y":-0.53,"n":3},{"k":"ck","x":0.99,"y":-0.58,"n":3},{"k":"ck","x":0.99,"y":-0.64,"n":4},{"k":"ck","x":0.99,"y":-0.7,"n":3},{"k":"ck","x":0.99,"y":-0.76,"n":2},{"k":"ck","x":0.99,"y":-0.82,"n":3},{"k":"ck","x":0.99,"y":-0.88},{"k":"ck","x":0.99,"y":-0.94}
]},
"vconcat":[
{"width":347,"height":290,
"encoding":{
"x":{"field":"x","type":"quantitative","scale":{"domain":[-1.2,1.2],"nice":false,"zero":false},"axis":{"values":[-1.1,-1,-0.9,-0.8,-0.7,-0.6,-0.5,-0.4,-0.3,-0.2,-0.1,0,0.1,0.2,0.3,0.4,0.5,0.6,0.7,0.8,0.9,1,1.1],"tickSize":{"condition":{"test":"abs(datum.value)==1||abs(datum.value)==0.5||datum.value==0","value":-12},"value":-5},"labels":false,"title":null}},
"y":{"field":"y","type":"quantitative","scale":{"domain":[-1.5,2],"nice":false,"zero":false},"axis":{"values":[-1.4,-1.2,-1,-0.8,-0.6,-0.4,-0.2,0,0.2,0.4,0.6,0.8,1,1.2,1.4,1.6,1.8],"tickSize":{"condition":{"test":"datum.value==0||abs(datum.value)==1","value":-12},"value":-6},"labelExpr":"datum.value==0||abs(datum.value)==1 ? toString(datum.value) : ''","labelFontSize":20,"labelPadding":31,"title":"log(EToF+EAToF)","titleFontSize":18,"titleX":-58,"titleY":114,"titleAlign":"center","titleBaseline":"middle","titleAngle":-90}}},
"resolve":{"scale":{"size":"independent"}},
"layer":[
{"data":{"name":"pts"},"transform":[{"filter":"substring(datum.k,0,1)=='a' && !datum.n"}],"mark":{"type":"square","size":5,"opacity":0.9},"encoding":{"color":{"field":"k","type":"nominal","scale":{"domain":["ak","ag","bk","by","ck","cm","cb"],"range":["#000000","#00e000","#000000","#ffff00","#000000","#ff00ff","#0000ff"]},"legend":null}}},
{"data":{"name":"pts"},"transform":[{"filter":"substring(datum.k,0,1)=='a' && datum.n"}],"mark":{"type":"point","shape":"square","filled":false,"strokeWidth":1,"opacity":1},"encoding":{"color":{"field":"k","type":"nominal","scale":{"domain":["ak","ag","bk","by","ck","cm","cb"],"range":["#000000","#00e000","#000000","#ffff00","#000000","#ff00ff","#0000ff"]},"legend":null},"size":{"field":"n","type":"quantitative","scale":{"domain":[2,6],"range":[9,49]},"legend":null}}},
{"data":{"name":"crv"},"transform":[{"filter":"datum.p=='a'"}],"mark":{"type":"line","color":"black","strokeWidth":1.5},"encoding":{"detail":{"field":"s"}}},
{"data":{"name":"txt"},"transform":[{"filter":"datum.p=='a' && datum.r!='big' && datum.r!='bigsub'"}],"mark":{"type":"text","align":"left","baseline":"alphabetic","fontWeight":"bold","color":"black","font":"Liberation Serif"},"encoding":{"text":{"field":"t"},"size":{"field":"r","type":"nominal","scale":{"type":"ordinal","domain":["tag","name","main","sub","sat"],"range":[26,19,25,20,24]},"legend":null}}}
]},
{"width":347,"height":290,
"encoding":{
"x":{"field":"x","type":"quantitative","scale":{"domain":[-1.2,1.2],"nice":false,"zero":false},"axis":{"values":[-1.1,-1,-0.9,-0.8,-0.7,-0.6,-0.5,-0.4,-0.3,-0.2,-0.1,0,0.1,0.2,0.3,0.4,0.5,0.6,0.7,0.8,0.9,1,1.1],"tickSize":{"condition":{"test":"abs(datum.value)==1||abs(datum.value)==0.5||datum.value==0","value":-12},"value":-5},"labels":false,"title":null}},
"y":{"field":"y","type":"quantitative","scale":{"domain":[-1.5,2],"nice":false,"zero":false},"axis":{"values":[-1.4,-1.2,-1,-0.8,-0.6,-0.4,-0.2,0,0.2,0.4,0.6,0.8,1,1.2,1.4,1.6,1.8],"tickSize":{"condition":{"test":"datum.value==0||abs(datum.value)==1","value":-12},"value":-6},"labelExpr":"datum.value==0||abs(datum.value)==1 ? toString(datum.value) : ''","labelFontSize":20,"labelPadding":31,"title":"log(EToF+EAToF)","titleFontSize":18,"titleX":-58,"titleY":112,"titleAlign":"center","titleBaseline":"middle","titleAngle":-90}}},
"resolve":{"scale":{"size":"independent"}},
"layer":[
{"data":{"name":"pts"},"transform":[{"filter":"substring(datum.k,0,1)=='b' && !datum.n"}],"mark":{"type":"square","size":5,"opacity":0.9},"encoding":{"color":{"field":"k","type":"nominal","scale":{"domain":["ak","ag","bk","by","ck","cm","cb"],"range":["#000000","#00e000","#000000","#ffff00","#000000","#ff00ff","#0000ff"]},"legend":null}}},
{"data":{"name":"pts"},"transform":[{"filter":"substring(datum.k,0,1)=='b' && datum.n"}],"mark":{"type":"point","shape":"square","filled":false,"strokeWidth":1,"opacity":1},"encoding":{"color":{"field":"k","type":"nominal","scale":{"domain":["ak","ag","bk","by","ck","cm","cb"],"range":["#000000","#00e000","#000000","#ffff00","#000000","#ff00ff","#0000ff"]},"legend":null},"size":{"field":"n","type":"quantitative","scale":{"domain":[2,6],"range":[9,49]},"legend":null}}},
{"data":{"name":"crv"},"transform":[{"filter":"datum.p=='b'"}],"mark":{"type":"line","color":"black","strokeWidth":1.5},"encoding":{"detail":{"field":"s"}}},
{"data":{"name":"txt"},"transform":[{"filter":"datum.p=='b' && datum.r!='big' && datum.r!='bigsub'"}],"mark":{"type":"text","align":"left","baseline":"alphabetic","fontWeight":"bold","color":"black","font":"Liberation Serif"},"encoding":{"text":{"field":"t"},"size":{"field":"r","type":"nominal","scale":{"type":"ordinal","domain":["tag","name","main","sub","sat"],"range":[26,19,25,20,24]},"legend":null}}}
]},
{"width":347,"height":290,
"encoding":{
"x":{"field":"x","type":"quantitative","scale":{"domain":[-1.2,1.2],"nice":false,"zero":false},"axis":{"values":[-1.1,-1,-0.9,-0.8,-0.7,-0.6,-0.5,-0.4,-0.3,-0.2,-0.1,0,0.1,0.2,0.3,0.4,0.5,0.6,0.7,0.8,0.9,1,1.1],"tickSize":{"condition":{"test":"abs(datum.value)==1||abs(datum.value)==0.5||datum.value==0","value":-12},"value":-5},"labelExpr":"abs(datum.value)==1||abs(datum.value)==0.5||datum.value==0 ? toString(datum.value) : ''","labelFontSize":21,"labelPadding":20,"title":null}},
"y":{"field":"y","type":"quantitative","scale":{"domain":[-1.5,2],"nice":false,"zero":false},"axis":{"values":[-1.4,-1.2,-1,-0.8,-0.6,-0.4,-0.2,0,0.2,0.4,0.6,0.8,1,1.2,1.4,1.6,1.8],"tickSize":{"condition":{"test":"datum.value==0||abs(datum.value)==1","value":-12},"value":-6},"labelExpr":"datum.value==0||abs(datum.value)==1 ? toString(datum.value) : ''","labelFontSize":20,"labelPadding":31,"title":"log(EToF+EAToF)","titleFontSize":18,"titleX":-58,"titleY":116,"titleAlign":"center","titleBaseline":"middle","titleAngle":-90}}},
"resolve":{"scale":{"size":"independent"}},
"layer":[
{"data":{"name":"pts"},"transform":[{"filter":"substring(datum.k,0,1)=='c' && !datum.n"}],"mark":{"type":"square","size":5,"opacity":0.9},"encoding":{"color":{"field":"k","type":"nominal","scale":{"domain":["ak","ag","bk","by","ck","cm","cb"],"range":["#000000","#00e000","#000000","#ffff00","#000000","#ff00ff","#0000ff"]},"legend":null}}},
{"data":{"name":"pts"},"transform":[{"filter":"substring(datum.k,0,1)=='c' && datum.n"}],"mark":{"type":"point","shape":"square","filled":false,"strokeWidth":1,"opacity":1},"encoding":{"color":{"field":"k","type":"nominal","scale":{"domain":["ak","ag","bk","by","ck","cm","cb"],"range":["#000000","#00e000","#000000","#ffff00","#000000","#ff00ff","#0000ff"]},"legend":null},"size":{"field":"n","type":"quantitative","scale":{"domain":[2,6],"range":[9,49]},"legend":null}}},
{"data":{"name":"crv"},"transform":[{"filter":"datum.p=='c'"}],"mark":{"type":"line","color":"black","strokeWidth":1.5},"encoding":{"detail":{"field":"s"}}},
{"data":{"name":"txt"},"transform":[{"filter":"datum.p=='c' && datum.r!='big' && datum.r!='bigsub'"}],"mark":{"type":"text","align":"left","baseline":"alphabetic","fontWeight":"bold","color":"black","font":"Liberation Serif"},"encoding":{"text":{"field":"t"},"size":{"field":"r","type":"nominal","scale":{"type":"ordinal","domain":["tag","name","main","sub","sat"],"range":[26,19,25,20,24]},"legend":null}}},
{"data":{"name":"txt"},"transform":[{"filter":"datum.p=='c' && (datum.r=='big' || datum.r=='bigsub')"}],"mark":{"type":"text","align":"left","baseline":"alphabetic","fontWeight":"normal","color":"black","font":"Liberation Serif"},"encoding":{"text":{"field":"t"},"size":{"field":"r","type":"nominal","scale":{"type":"ordinal","domain":["big","bigsub"],"range":[33,28]},"legend":null}}}
]}
]}
